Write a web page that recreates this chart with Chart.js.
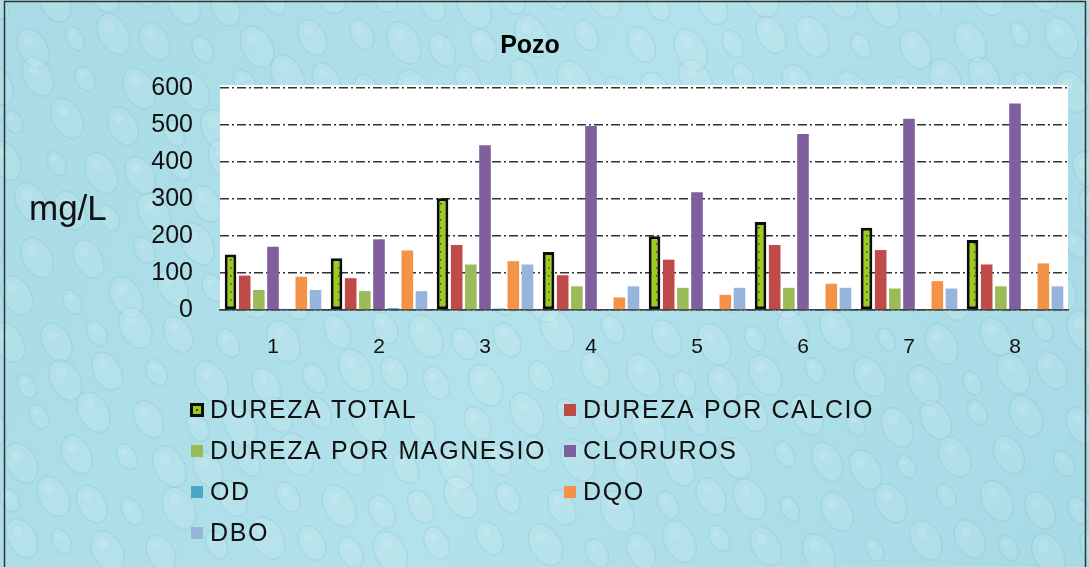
<!DOCTYPE html>
<html>
<head>
<meta charset="utf-8">
<script src="https://cdn.jsdelivr.net/npm/chart.js@4/dist/chart.umd.min.js"></script>
<style>
  html, body { margin: 0; padding: 0; background: #ffffff; }
  #wrap { width: 1089px; height: 567px; position: relative; }
</style>
</head>
<body>
<div id="wrap"><canvas id="c" width="1089" height="567"></canvas></div>
<script>
// ---- Data ----
const categories = ['1', '2', '3', '4', '5', '6', '7', '8'];
const durezaTotal      = [150, 140, 302, 157, 199, 238, 222, 189];
const durezaCalcio     = [93, 86, 176, 94, 136, 176, 162, 123];
const durezaMagnesio   = [54, 51, 123, 64, 60, 60, 58, 64];
const cloruros         = [171, 191, 445, 497, 318, 476, 517, 558];
const od               = [3, 5, 4, 2, 2, 2, 2, 2];
const dqo              = [90, 161, 132, 34, 41, 71, 78, 126];
const dbo              = [54, 51, 123, 64, 60, 60, 58, 64];
const seriesNames = ['DUREZA TOTAL', 'DUREZA POR CALCIO', 'DUREZA POR MAGNESIO', 'CLORUROS', 'OD', 'DQO', 'DBO'];
const yTicks = [0, 100, 200, 300, 400, 500, 600];
const chartTitle = 'Pozo';
const yTitle = 'mg/L';

// ---- Styles ----
const canvas = document.getElementById('c');
const ctx0 = canvas.getContext('2d');
function dotPattern() {
  const c = document.createElement('canvas');
  c.width = 6; c.height = 8;
  const x = c.getContext('2d');
  x.fillStyle = '#9ccc1c';
  x.fillRect(0, 0, 6, 8);
  x.fillStyle = '#3b4a08';
  x.fillRect(2, 3, 1.5, 1.5);
  return ctx0.createPattern(c, 'repeat');
}
const dtFill = dotPattern();
const colors = [dtFill, '#bf4b48', '#9bbb59', '#7f5f9e', '#4aa6c2', '#f39347', '#97b4dc'];

const values = [durezaTotal, durezaCalcio, durezaMagnesio, cloruros, od, dqo, dbo];
const datasets = values.map((v, i) => ({
  label: seriesNames[i],
  data: v,
  backgroundColor: colors[i],
  borderColor: i === 0 ? '#0d0d0d' : colors[i],
  borderWidth: i === 0 ? 3 : 0,
  borderSkipped: false,
  categoryPercentage: 0.935,
  barPercentage: 0.82
}));

// ---- Background + decorations ----
const decor = {
  id: 'decor',
  beforeDraw(chart) {
    const ctx = chart.ctx;
    const W = chart.width, H = chart.height;
    ctx.save();
    const g = ctx.createLinearGradient(0, 0, W, H);
    g.addColorStop(0, '#a8dbe5');
    g.addColorStop(0.5, '#b2e2eb');
    g.addColorStop(1, '#a6dae5');
    ctx.fillStyle = g;
    ctx.fillRect(0, 0, W, H);
    // subtle droplet texture (decorative, deterministic)
    for (let r = 0; r < 14; r++) {
      for (let c = 0; c < 24; c++) {
        const cx = c * 47 + (r % 2) * 23 + 10 * Math.sin(r * 1.7 + c * 0.9);
        const cy = r * 42 + 8 * Math.cos(c * 1.3 + r * 0.7);
        const rx = 8 + 7 * Math.abs(Math.sin(r * 2.1 + c * 1.1));
        const ry = rx * 1.5;
        ctx.beginPath();
        ctx.ellipse(cx, cy, rx, ry, -0.5, 0, Math.PI * 2);
        ctx.fillStyle = 'rgba(255,255,255,0.09)';
        ctx.fill();
        ctx.lineWidth = 1.5;
        ctx.strokeStyle = 'rgba(60,140,165,0.10)';
        ctx.stroke();
        ctx.beginPath();
        ctx.ellipse(cx - rx * 0.3, cy - ry * 0.35, rx * 0.35, ry * 0.25, -0.5, 0, Math.PI * 2);
        ctx.fillStyle = 'rgba(255,255,255,0.12)';
        ctx.fill();
      }
    }
    // frame
    ctx.strokeStyle = '#333';
    ctx.lineWidth = 1.5;
    ctx.strokeRect(4.5, 1.5, 1081, 570);
    // plot area
    const a = chart.chartArea;
    ctx.fillStyle = '#ffffff';
    ctx.fillRect(a.left, a.top - 3, a.right - a.left, a.bottom - a.top + 3);
    ctx.restore();
  },
  afterDraw(chart) {
    const ctx = chart.ctx;
    ctx.save();
    // title
    ctx.fillStyle = '#000';
    ctx.font = 'bold 25px "Liberation Sans", Arial, sans-serif';
    ctx.textAlign = 'center';
    ctx.textBaseline = 'middle';
    ctx.fillText(chartTitle, 530, 46);
    // y title
    ctx.font = '35px "Liberation Sans", Arial, sans-serif';
    ctx.textAlign = 'left';
    ctx.textBaseline = 'alphabetic';
    ctx.fillStyle = '#111';
    ctx.fillText(yTitle, 29, 220);
    // legend
    const colX = [190, 563];
    const rowY = [410, 451, 492, 533];
    ctx.font = '25px "Liberation Sans", Arial, sans-serif';
    ctx.textBaseline = 'middle';
    try { ctx.letterSpacing = '1.6px'; } catch (e) {}
    chart.data.datasets.forEach((ds, i) => {
      const x = colX[i % 2], y = rowY[Math.floor(i / 2)];
      const s = 14;
      if (i === 0) {
        ctx.fillStyle = '#0d0d0d';
        ctx.fillRect(x, y - s / 2, s, s);
        ctx.fillStyle = '#9ccc1c';
        ctx.fillRect(x + 3, y - s / 2 + 3, s - 6, s - 6);
        ctx.fillStyle = '#3b4a08';
        ctx.fillRect(x + 6, y - 1, 2, 2);
      } else {
        ctx.fillStyle = ds.backgroundColor;
        ctx.fillRect(x + 1, y - s / 2 + 1, s - 2, s - 2);
      }
      ctx.fillStyle = '#111';
      ctx.fillText(ds.label, x + 20, y + 1);
    });
    ctx.restore();
  }
};

new Chart(canvas, {
  type: 'bar',
  data: { labels: categories, datasets },
  plugins: [decor],
  options: {
    responsive: false,
    animation: false,
    devicePixelRatio: 1,
    layout: { padding: { left: 0, top: 88, right: 21, bottom: 0 } },
    plugins: {
      legend: { display: false },
      title: { display: false },
      tooltip: { enabled: false }
    },
    scales: {
      x: {
        grid: { display: false, drawTicks: false },
        border: { display: true, color: '#3c3c3c', width: 1.5 },
        ticks: {
          color: '#111',
          padding: 25,
          font: { family: '"Liberation Sans", Arial, sans-serif', size: 21 }
        },
        afterFit(scale) { scale.height = 257; }
      },
      y: {
        min: 0,
        max: 600,
        afterBuildTicks(scale) { scale.ticks = yTicks.map(v => ({ value: v })); },
        grid: { color: '#333333', lineWidth: 1.5, drawTicks: false },
        border: { display: false, dash: [9, 3, 2, 3] },
        ticks: {
          color: '#111',
          padding: 27,
          font: { family: '"Liberation Sans", Arial, sans-serif', size: 25 }
        },
        afterFit(scale) { scale.width = 220; }
      }
    }
  }
});
</script>
</body>
</html>
